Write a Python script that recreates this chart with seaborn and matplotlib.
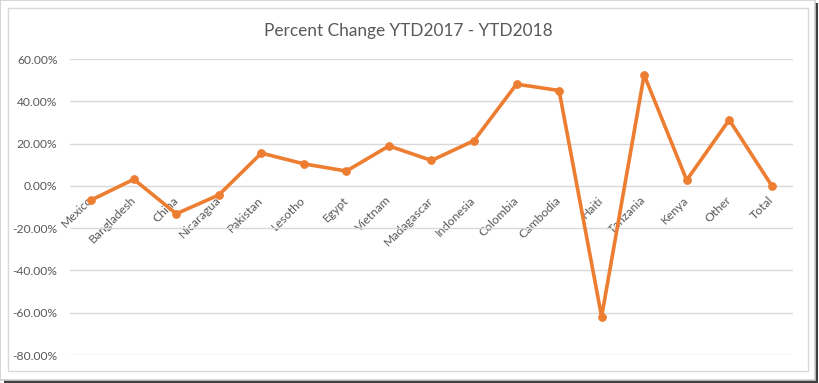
import numpy as np
import pandas as pd
import matplotlib
matplotlib.use("Agg")
import matplotlib.pyplot as plt
import seaborn as sns
from matplotlib.patches import Rectangle
from matplotlib.ticker import FuncFormatter

# data
countries = ["Mexico", "Bangladesh", "China", "Nicaragua", "Pakistan", "Lesotho",
             "Egypt", "Vietnam", "Madagascar", "Indonesia", "Colombia", "Cambodia",
             "Haiti", "Tanzania", "Kenya", "Other", "Total"]
pct_change = [-6.7, 3.1, -13.2, -4.3, 15.5, 10.4, 7.0, 18.9, 12.0, 21.4,
              48.1, 45.1, -61.9, 52.5, 2.7, 31.2, 0.1]
y_ticks = [60, 40, 20, 0, -20, -40, -60, -80]

df = pd.DataFrame({"country": countries, "pct": pct_change})
df["pos"] = np.arange(len(df))

sns.set_style("white")
plt.rcParams['font.family'] = ['Lato', 'DejaVu Sans']
grey = "#595959"
orange = "#ED7D31"

fig = plt.figure(figsize=(8.2, 3.83), dpi=100)
ax = fig.add_axes([70/820, 1 - 355/383, 723/820, (355 - 59)/383])

# frame + shadow like the excel screenshot
fig.patches.append(Rectangle((4/820, 0), 814/820, 380/383, transform=fig.transFigure,
                             facecolor="#404040", edgecolor="none", zorder=-3))
fig.patches.append(Rectangle((0, 3/383), 815/820, 380/383, transform=fig.transFigure,
                             facecolor="white", edgecolor="#D0D0D0", lw=1.2, zorder=-2))
fig.patches.append(Rectangle((8/820, 1 - 371/383), 800/820, 363/383, transform=fig.transFigure,
                             facecolor="white", edgecolor="#D9D9D9", lw=1, zorder=-1))

sns.lineplot(data=df, x="pos", y="pct", ax=ax, color=orange, lw=2.6,
             marker="o", markersize=5.5, markeredgecolor=orange)

ax.set_xlim(-0.5, len(df) - 0.5)
ax.set_ylim(-80, 60)
ax.set_yticks(y_ticks)
ax.yaxis.set_major_formatter(FuncFormatter(lambda v, p: f"{v:.2f}%"))
ax.grid(axis="y", color="#D9D9D9", lw=1)
ax.set_axisbelow(True)
for s in ax.spines.values():
    s.set_visible(False)
ax.spines["bottom"].set_position(("data", 0))

ax.set_xticks(df["pos"])
ax.set_xticklabels(df["country"], rotation=45, ha="right", va="center",
                   rotation_mode="anchor")
ax.tick_params(axis="x", length=0, pad=9, labelsize=8.7, labelcolor=grey)
ax.tick_params(axis="y", length=0, pad=9, labelsize=8.7, labelcolor=grey)
ax.set_xlabel("")
ax.set_ylabel("")

fig.text(408/820, 1 - 31/383, "Percent Change YTD2017 - YTD2018", ha="center",
         va="center", fontsize=12.4, color=grey)

fig.savefig("out.png", dpi=100)
